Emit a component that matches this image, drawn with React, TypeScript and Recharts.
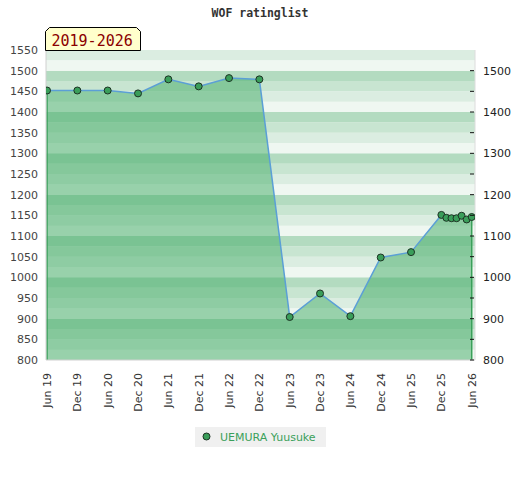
import React from "react";
import {
  ComposedChart,
  Area,
  Line,
  XAxis,
  YAxis,
  ReferenceArea,
} from "recharts";

const dates = [
  "2019-06", "2019-12", "2020-06", "2020-12", "2021-06", "2021-12", "2022-06",
  "2022-12", "2023-06", "2023-12", "2024-06", "2024-12", "2025-06", "2025-12",
  "2026-01", "2026-02", "2026-03", "2026-04", "2026-05", "2026-06",
];
const ratings = [
  1452, 1452, 1452, 1445, 1479, 1462, 1482, 1479, 904, 961, 906, 1048, 1061,
  1151, 1144, 1143, 1143, 1149, 1140, 1146,
];
const tickLabels = [
  "Jun 19", "Dec 19", "Jun 20", "Dec 20", "Jun 21", "Dec 21", "Jun 22",
  "Dec 22", "Jun 23", "Dec 23", "Jun 24", "Dec 24", "Jun 25", "Dec 25", "Jun 26",
];
const leftTicks = [800, 850, 900, 950, 1000, 1050, 1100, 1150, 1200, 1250, 1300, 1350, 1400, 1450, 1500, 1550];
const rightTicks = [800, 850, 900, 950, 1000, 1050, 1100, 1150, 1200, 1250, 1300, 1350, 1400, 1450, 1500];
const bandEdges = [800, 825, 850, 875, 900, 925, 950, 975, 1000, 1025, 1050, 1075, 1100, 1125, 1150, 1175, 1200, 1225, 1250, 1275, 1300, 1325, 1350, 1375, 1400, 1425, 1450, 1475, 1500, 1525, 1550];
const bandColors = ["#b3dbc0", "#c8e5d1", "#dbede1", "#eff7f1"];

const monthIndex = (d: string) => {
  const [y, m] = d.split("-").map(Number);
  return (y - 2019) * 12 + (m - 6);
};

const data = dates.map((d, i) => ({ t: monthIndex(d), v: ratings[i] }));
const xTicks = tickLabels.map((_, i) => i * 6);

const first = data[0];
const last = data[data.length - 1];
const leftEdge = [{ t: first.t, e: 800 }, { t: first.t, e: first.v }];
const rightEdge = [{ t: last.t, e: 800 }, { t: last.t, e: last.v }];

const XTick = (props: any) => {
  const { x, y, payload } = props;
  const label = tickLabels[xTicks.indexOf(payload.value)] ?? "";
  return (
    <text
      x={x}
      y={y + 13}
      transform={`rotate(-90 ${x} ${y + 13})`}
      textAnchor="end"
      dy="0.35em"
      fontSize={11}
      fontFamily="DejaVu Sans"
      fill="#333"
    >
      {label}
    </text>
  );
};

const RightTick = (props: any) => {
  const { x, y, payload } = props;
  const v = payload.value;
  return (
    <g>
      <line x1={x - 5} x2={x - 1} y1={y} y2={y} stroke="#111" strokeWidth={1} />
      {v % 100 === 0 ? (
        <text x={x + 8} y={y} dy="0.36em" fontSize={11} fontFamily="DejaVu Sans" fill="#222">
          {v}
        </text>
      ) : null}
    </g>
  );
};

export default function App() {
  return (
    <div style={{ position: "absolute", left: 0, top: 0, width: 520, height: 480, background: "#fff" }}>
      <ComposedChart
        width={520}
        height={480}
        data={data}
        margin={{ top: 50, right: 0, bottom: 70, left: 0 }}
      >
        <XAxis
          dataKey="t"
          type="number"
          domain={[-0.2, 84.65]}
          ticks={xTicks}
          allowDataOverflow
          height={50}
          tickLine={false}
          tickSize={0}
          tickMargin={0}
          axisLine={{ stroke: "#d0d0d0" }}
          tick={<XTick />}
          interval={0}
        />
        <YAxis
          yAxisId="left"
          orientation="left"
          domain={[800, 1550]}
          ticks={leftTicks}
          width={46}
          tickLine={false}
          tickSize={0}
          tickMargin={8}
          axisLine={{ stroke: "#d0d0d0" }}
          tick={{ fontSize: 11, fontFamily: "DejaVu Sans", fill: "#444" }}
          interval={0}
          allowDataOverflow
        />
        <YAxis
          yAxisId="right"
          orientation="right"
          domain={[800, 1550]}
          ticks={rightTicks}
          width={45}
          tickLine={false}
          tickSize={0}
          tickMargin={0}
          axisLine={{ stroke: "#dcdcdc" }}
          tick={<RightTick />}
          interval={0}
          allowDataOverflow
        />
        {bandEdges.slice(0, -1).map((lo, i) => {
          const hi = bandEdges[i + 1];
          const k = ((100 - (hi % 100)) % 100) / 25;
          return (
            <ReferenceArea
              key={lo}
              yAxisId="left"
              y1={lo}
              y2={hi}
              fill={bandColors[k]}
              fillOpacity={1}
              stroke="none"
              ifOverflow="visible"
            />
          );
        })}
        <Area
          yAxisId="left"
          type="linear"
          dataKey="v"
          baseValue={800}
          fill="#42ab66"
          fillOpacity={0.5}
          stroke="none"
          isAnimationActive={false}
          dot={false}
          activeDot={false}
        />
        <Line
          yAxisId="right"
          type="linear"
          dataKey="v"
          stroke="none"
          strokeOpacity={0}
          isAnimationActive={false}
          dot={false}
          activeDot={false}
          legendType="none"
        />
        <Line
          yAxisId="left"
          data={leftEdge}
          type="linear"
          dataKey="e"
          stroke="#3aa05a"
          strokeWidth={1.5}
          isAnimationActive={false}
          dot={false}
          activeDot={false}
        />
        <Line
          yAxisId="left"
          data={rightEdge}
          type="linear"
          dataKey="e"
          stroke="#3aa05a"
          strokeWidth={1.5}
          isAnimationActive={false}
          dot={false}
          activeDot={false}
        />
        <Line
          yAxisId="left"
          type="linear"
          dataKey="v"
          stroke="#5b9fd6"
          strokeWidth={1.5}
          isAnimationActive={false}
          dot={{ r: 3.5, fill: "#3a9e5a", stroke: "#1d3324", strokeWidth: 1, fillOpacity: 1 }}
          activeDot={false}
        />
      </ComposedChart>
      <svg
        width={520}
        height={480}
        style={{ position: "absolute", left: 0, top: 0, pointerEvents: "none" }}
      >
        <text
          x={260}
          y={17}
          textAnchor="middle"
          fontFamily="DejaVu Sans Mono"
          fontWeight="bold"
          fontSize={11.5}
          fill="#333"
        >
          WOF ratinglist
        </text>
        <path d="M45.5,50.5 L45.5,31.5 L49.5,27.5 L136.5,27.5 L140.5,31.5 L140.5,50.5 Z" fill="#ffffcc" stroke="#000" strokeWidth={1} />
        <text x={51.5} y={45.5} fontFamily="DejaVu Sans Mono" fontSize={15} fill="#8b0000">
          2019-2026
        </text>
        <rect x={195} y={427} width={131} height={20} fill="#f0f0f0" />
        <circle cx={206.5} cy={436.5} r={3.5} fill="#3a9e5a" stroke="#1d3324" strokeWidth={1} />
        <text x={220} y={440.5} fontFamily="DejaVu Sans" fontSize={11} fill="#3aa05a">
          UEMURA Yuusuke
        </text>
      </svg>
    </div>
  );
}
